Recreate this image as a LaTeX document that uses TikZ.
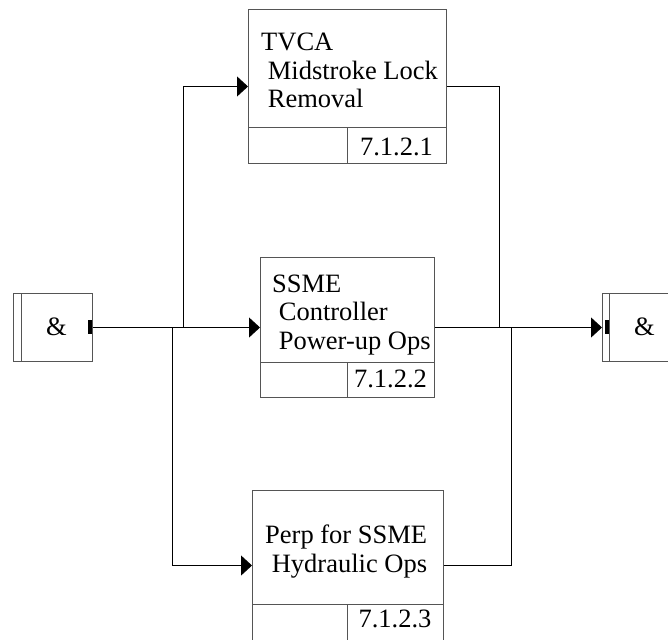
\documentclass[tikz,border=0pt]{standalone}
\usepackage{fontspec}
\setmainfont{Liberation Serif}
\usetikzlibrary{arrows.meta,positioning,calc}
\definecolor{boxgray}{RGB}{85,85,85}

\begin{document}
\begin{tikzpicture}[x=1pt,y=-1pt,
    lbl/.style={font=\fontsize{26.5}{28.5}\selectfont,inner sep=0pt},
    act/.style={draw=boxgray,line width=1pt,anchor=north west,inner sep=0pt},
    andbox/.style={draw=boxgray,line width=1pt,anchor=north west,inner sep=0pt,minimum width=79pt,minimum height=68pt},
    boxline/.style={boxgray,line width=1pt},
    flow/.style={line width=1pt,-{Triangle[length=11pt,width=20pt]}},
    link/.style={line width=1pt}]
        \useasboundingbox (0,0) rectangle (668,639);
        % and-junctions
        \node[andbox] (andL) at (13,293) {};
        \draw[boxline] (21,293) -- (21,361);
        \fill (88,320) rectangle (92,334);
        \node[lbl] (andLtxt) at (56.5,327) {\&};
        \node[andbox] (andR) at (602,293) {};
        \draw[boxline] (609,293) -- (609,361);
        \fill (605,320) rectangle (609,334);
        \node[lbl] (andRtxt) at (644.5,327) {\&};
        % activities (text anchored on the baseline of its last line)
        \node[act,minimum width=198pt,minimum height=154pt] (tvca) at (248,9) {};
        \draw[boxline] (248,128) -- (446,128) (347,128) -- (347,163);
        \node[lbl,anchor=base west,align=left] (tvcaTxt) at (261,108) {TVCA\\\hspace*{.25em}Midstroke Lock\\\hspace*{.25em}Removal};
        \node[lbl,anchor=base] (tvcaNum) at (396.5,155) {7.1.2.1};
        \node[act,minimum width=174pt,minimum height=140pt] (ssme) at (260,257) {};
        \draw[boxline] (260,362) -- (434,362) (347,362) -- (347,397);
        \node[lbl,anchor=base west,align=left] (ssmeTxt) at (272,349) {SSME\\\hspace*{.25em}Controller\\\hspace*{.25em}Power-up Ops};
        \node[lbl,anchor=base] (ssmeNum) at (390.5,387) {7.1.2.2};
        \node[act,minimum width=191pt,minimum height=150pt] (perp) at (252,490) {};
        \draw[boxline] (252,604) -- (443,604) (347,604) -- (347,640);
        \node[lbl,anchor=base west,align=left] (perpTxt) at (265,572) {Perp for SSME\\\hspace*{.25em}Hydraulic Ops};
        \node[lbl,anchor=base] (perpNum) at (395,627) {7.1.2.3};
        % branch points
        \coordinate (upSplit) at (183,327);
        \coordinate (dnSplit) at (172,327);
        \coordinate (upJoin) at (499,327);
        \coordinate (dnJoin) at (511,327);
        % connectors
        \draw[flow] (andL.east) -- (ssme.west);
        \draw[flow] (upSplit) |- (tvca.west);
        \draw[flow] (dnSplit) |- (perp.west);
        \draw[link] (tvca.east) -| (upJoin);
        \draw[link] (perp.east) -| (dnJoin);
        \draw[flow] (ssme.east) -- (andR.west);
      \end{tikzpicture}
\end{document}
